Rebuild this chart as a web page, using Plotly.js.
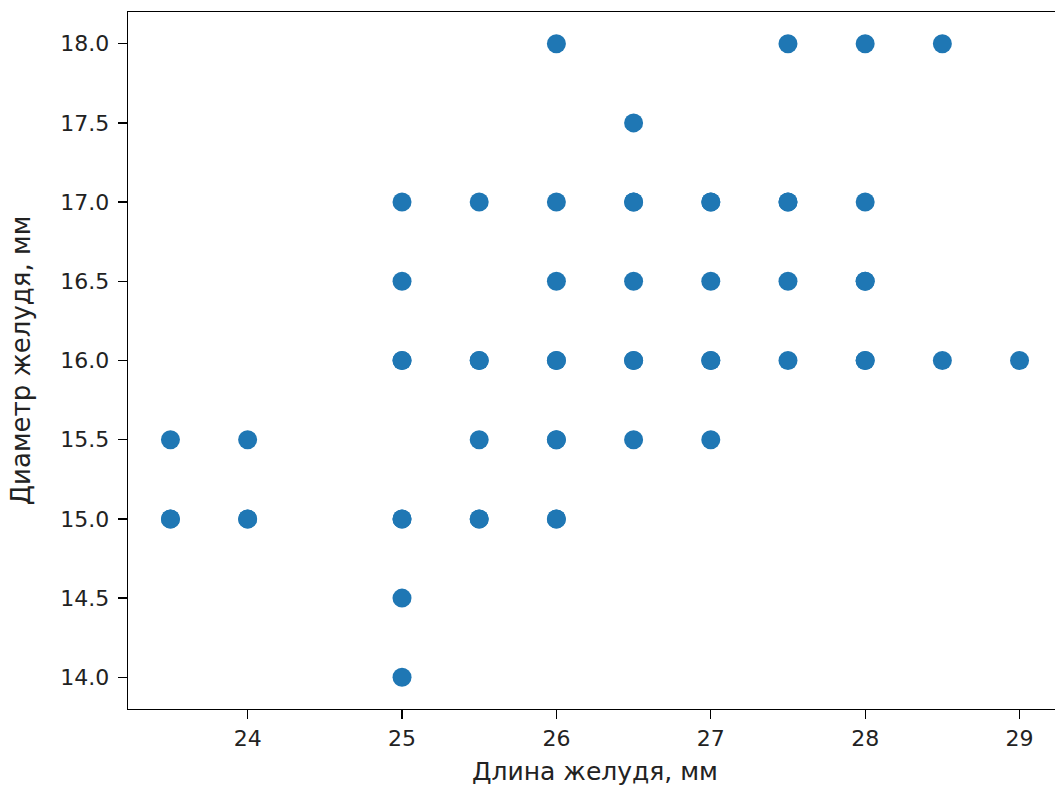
<!DOCTYPE html>
<html>
<head>
<meta charset="utf-8">
<script src="https://cdn.plot.ly/plotly-3.0.1.min.js"></script>
<style>
html, body { margin: 0; padding: 0; overflow: hidden; background: #fff; width: 1055px; height: 788px; }
#chart { width: 1075px; height: 788px; }
</style>
</head>
<body>
<div id="chart"></div>
<script>
// Acorn length (mm) and diameter (mm)
const lengthMm = [
  26, 27.5, 28, 28.5,
  26.5,
  25, 25.5, 26, 26.5, 26.5, 27, 27, 27.5, 27.5, 28,
  25, 26, 26.5, 27, 27.5, 28, 28,
  25, 25, 25.5, 25.5, 26, 26, 26.5, 26.5, 27, 27, 27.5, 28, 28, 28.5, 29,
  23.5, 24, 25.5, 26, 26, 26.5, 27,
  23.5, 23.5, 24, 24, 25, 25, 25.5, 25.5, 26, 26,
  25,
  25
];
const diameterMm = [
  18, 18, 18, 18,
  17.5,
  17, 17, 17, 17, 17, 17, 17, 17, 17, 17,
  16.5, 16.5, 16.5, 16.5, 16.5, 16.5, 16.5,
  16, 16, 16, 16, 16, 16, 16, 16, 16, 16, 16, 16, 16, 16, 16,
  15.5, 15.5, 15.5, 15.5, 15.5, 15.5, 15.5,
  15, 15, 15, 15, 15, 15, 15, 15, 15, 15,
  14.5,
  14
];
const xTicks = [24, 25, 26, 27, 28, 29];
const yTicks = [14.0, 14.5, 15.0, 15.5, 16.0, 16.5, 17.0, 17.5, 18.0];

const trace = {
  x: lengthMm,
  y: diameterMm,
  type: 'scatter',
  mode: 'markers',
  marker: { color: '#1f77b4', size: 19, line: { width: 0 } },
  hoverinfo: 'x+y'
};

const layout = {
  width: 1075,
  height: 788,
  margin: { l: 128, r: 13, t: 12, b: 79 },
  paper_bgcolor: '#ffffff',
  plot_bgcolor: '#ffffff',
  showlegend: false,
  font: { family: 'DejaVu Sans, sans-serif', color: '#222', size: 22 },
  xaxis: {
    range: [23.225, 29.275],
    tickvals: xTicks,
    ticktext: xTicks.map(v => String(v)),
    ticks: 'outside', ticklen: 9, tickwidth: 1.3, tickcolor: '#000',
    showline: true, linecolor: '#000', linewidth: 1.3, mirror: true,
    showgrid: false, zeroline: false,
    tickfont: { size: 22, color: '#222' },
    title: { text: 'Длина желудя, мм', font: { size: 25, color: '#222' }, standoff: 12 }
  },
  yaxis: {
    range: [13.8, 18.2],
    tickvals: yTicks,
    ticktext: yTicks.map(v => v.toFixed(1)),
    ticks: 'outside', ticklen: 9, tickwidth: 1.3, tickcolor: '#000',
    ticklabelstandoff: 4,
    showline: true, linecolor: '#000', linewidth: 1.3, mirror: true,
    showgrid: false, zeroline: false,
    tickfont: { size: 22, color: '#222' },
    title: { text: 'Диаметр желудя, мм', font: { size: 26, color: '#222' }, standoff: 22 }
  }
};

Plotly.newPlot('chart', [trace], layout, { staticPlot: true, displayModeBar: false });
</script>
</body>
</html>
